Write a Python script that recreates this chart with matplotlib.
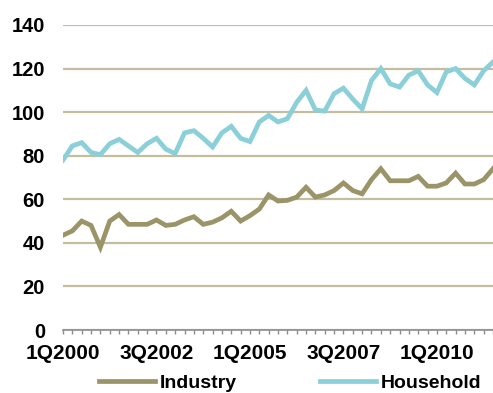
import matplotlib.pyplot as plt

plt.rcParams['font.family'] = ['Liberation Sans', 'DejaVu Sans']
plt.rcParams['font.weight'] = 'bold'

# quarterly series, 1Q2000 onwards
quarters = [f"{q}Q{y}" for y in range(2000, 2012) for q in range(1, 5)][:47]
industry = [43.5, 45.5, 50, 48, 38, 50, 53, 48.5, 48.5, 48.5, 50.5, 48,
            48.5, 50.5, 52, 48.5, 49.5, 51.5, 54.5, 50, 52.5, 55.5, 62, 59.2,
            59.5, 61, 65.5, 61, 62, 64, 67.5, 64, 62.5, 69, 74, 68.5,
            68.5, 68.5, 70.5, 66, 66, 67.5, 72, 67, 67, 69, 74]
household = [78, 84.5, 86, 81.5, 80.5, 85.5, 87.5, 84.5, 81.5, 85.5, 88, 83,
             81, 90.5, 91.5, 88, 84, 90.5, 93.5, 88, 86.5, 95.5, 98.5, 95.5,
             97, 104.5, 110, 101, 100.5, 108.5, 111, 106, 101.5, 114.5, 120, 113,
             111.5, 117, 119, 112.5, 109, 118.5, 120, 115.5, 112.5, 119, 123]
shown_labels = ['1Q2000', '3Q2002', '1Q2005', '3Q2007', '1Q2010']

fig = plt.figure(figsize=(4.93, 3.93), dpi=100)
ax = fig.add_axes([63 / 493, 1 - 330 / 393, 1 - 63 / 493, 305 / 393])

x = list(range(len(quarters)))
ax.plot(x, industry, color='#9a9468', lw=3.4, label='Industry', solid_joinstyle='miter', zorder=3)
ax.plot(x, household, color='#8bcfd9', lw=3.4, label='Household', solid_joinstyle='miter', zorder=3)

ax.set_ylim(0, 140)
ax.set_xlim(0, 45.75)
ax.set_yticks(range(0, 141, 20))
ax.yaxis.grid(True, color='#c5bd9f', lw=1.6)
ax.set_axisbelow(True)
ax.tick_params(axis='y', length=0, pad=13, labelsize=14.5)

ax.set_xticks(x)
ax.set_xticklabels([q if q in shown_labels else '' for q in quarters])
ax.tick_params(axis='x', length=3, width=1, color='#8c8c8c', pad=7, labelsize=15)

for lab in ax.get_xticklabels() + ax.get_yticklabels():
    lab.set_fontweight('bold')

for side in ['left', 'right', 'top']:
    ax.spines[side].set_visible(False)
ax.spines['bottom'].set_color('#8c8c8c')
ax.spines['bottom'].set_linewidth(1.2)
ax.spines['bottom'].set_zorder(4)

leg = fig.legend(loc='center', bbox_to_anchor=(290 / 493, 1 - 383 / 393), ncol=2,
                 frameon=False, prop={'size': 14, 'weight': 'bold'},
                 handlelength=2.9, handletextpad=0.2, columnspacing=4.3, borderpad=0)

fig.savefig('out.png', dpi=100)
